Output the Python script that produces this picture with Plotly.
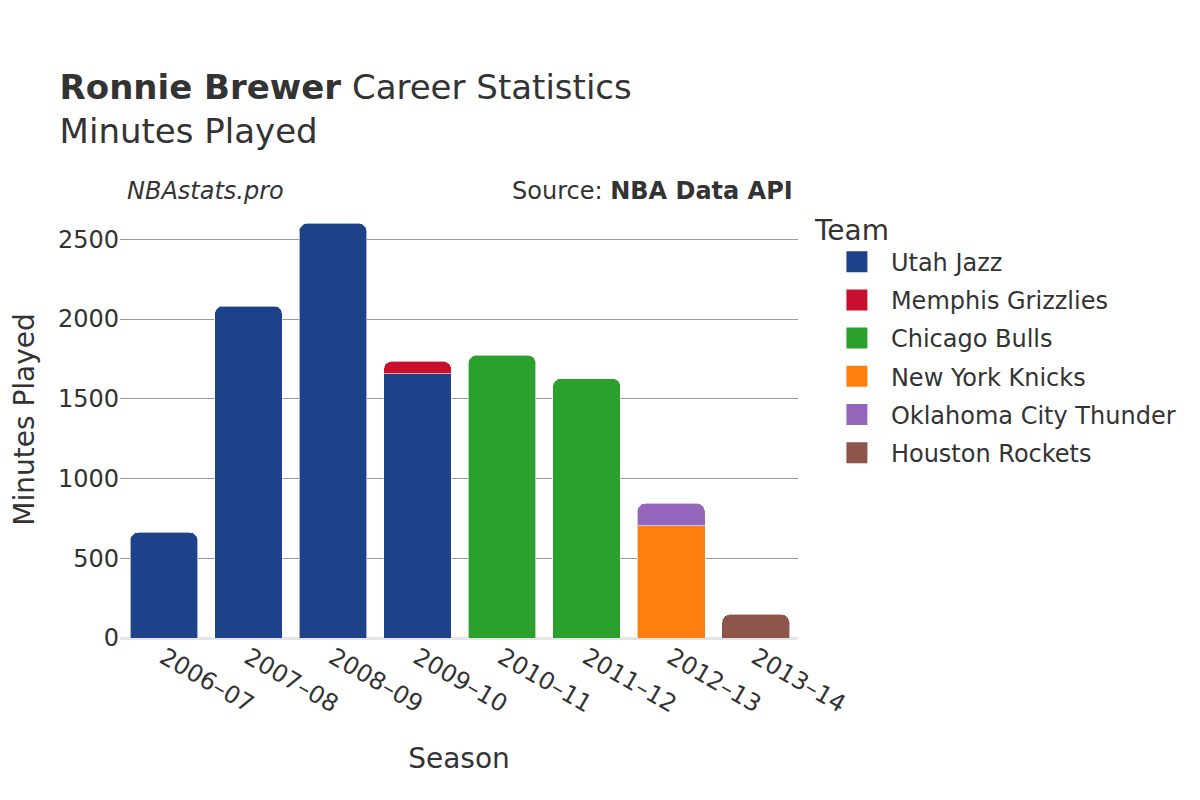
import plotly.graph_objects as go

seasons = ['2006–07', '2007–08', '2008–09', '2009–10', '2010–11', '2011–12', '2012–13', '2013–14']

teams = ['Utah Jazz', 'Memphis Grizzlies', 'Chicago Bulls', 'New York Knicks',
         'Oklahoma City Thunder', 'Houston Rockets']
team_colors = ['#1D428A', '#C8102E', '#2CA02C', '#FF7F0E', '#9467BD', '#8C564B']

utah_jazz = [662, 2081, 2600, 1658, None, None, None, None]
memphis_grizzlies = [None, None, None, 77, None, None, None, None]
chicago_bulls = [None, None, None, None, 1773, 1627, None, None]
new_york_knicks = [None, None, None, None, None, None, 704, None]
okc_thunder = [None, None, None, None, None, None, 140, None]
houston_rockets = [None, None, None, None, None, None, None, 148]

minutes = [utah_jazz, memphis_grizzlies, chicago_bulls, new_york_knicks, okc_thunder, houston_rockets]

fig = go.Figure()
for team, color, vals in zip(teams, team_colors, minutes):
    fig.add_trace(go.Bar(
        x=seasons,
        y=vals,
        name=team,
        legendgroup=team,
        showlegend=False,
        marker=dict(color=color, line=dict(color='rgba(255,255,255,0.6)', width=1)),
    ))
    # legend-only marker, bigger square than the bar legend icon
    fig.add_trace(go.Scatter(
        x=[seasons[0]], y=[None],
        mode='markers',
        name=team,
        legendgroup=team,
        marker=dict(symbol='square', size=16, color=color, line=dict(color=color, width=5)),
        hoverinfo='skip',
    ))

fig.update_layout(
    width=1200, height=800,
    barmode='stack', bargap=0.2, barcornerradius=8,
    plot_bgcolor='white', paper_bgcolor='white',
    font=dict(family='DejaVu Sans', size=24, color='#333333'),
    margin=dict(l=112, r=410, t=193, b=170),
    title=dict(text='<b>Ronnie Brewer</b> Career Statistics<br>Minutes Played',
               x=0.043, xanchor='left', y=0.886, yanchor='top',
               font=dict(size=34, color='#333333')),
    legend=dict(title=dict(text='Team', font=dict(size=28)), x=1.022, y=0.995, yanchor='top',
                font=dict(size=24), tracegroupgap=4,
                indentation=10, itemwidth=58),
    annotations=[
        dict(text='<i>NBAstats.pro</i>', xref='paper', yref='paper', x=0.008, y=1.0,
             xanchor='left', yanchor='bottom', yshift=-6, showarrow=False, font=dict(size=24)),
        dict(text='Source: <b>NBA Data API</b>', xref='paper', yref='paper', x=0.996, y=1.0,
             xanchor='right', yanchor='bottom', yshift=-6, showarrow=False, font=dict(size=24)),
    ],
)

fig.update_xaxes(title=dict(text='Season', font=dict(size=28), standoff=30), tickangle=30,
                 showgrid=False, ticks='')
fig.update_yaxes(title=dict(text='Minutes Played', font=dict(size=28), standoff=38), automargin=False,
                 showgrid=True, gridcolor='#999999', gridwidth=1, zeroline=True,
                 zerolinecolor='#e5e5e5', zerolinewidth=3, dtick=500, ticks='', range=[0, 2740])

fig.write_html("out.html")
